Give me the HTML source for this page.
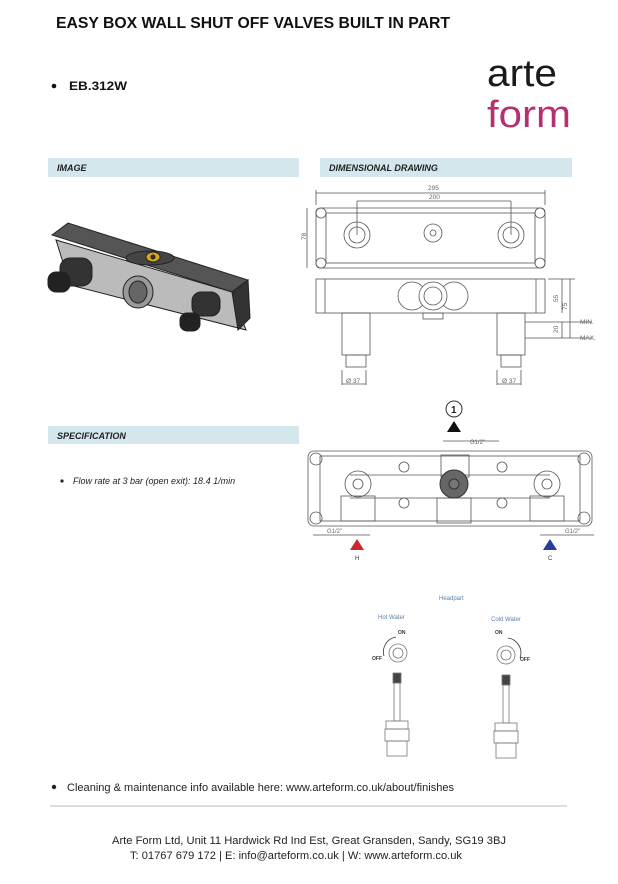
<!DOCTYPE html>
<html><head><meta charset="utf-8"><style>
html,body{margin:0;padding:0;background:#fff;}
svg{display:block;font-family:"Liberation Sans",sans-serif;}
</style></head><body>
<svg width="618" height="884" viewBox="0 0 618 884" xmlns="http://www.w3.org/2000/svg">
<rect width="618" height="884" fill="#fff"/>
<!-- header -->
<text x="56" y="28" font-size="16" font-weight="bold" fill="#111" textLength="394" lengthAdjust="spacingAndGlyphs">EASY BOX WALL SHUT OFF VALVES BUILT IN PART</text>
<circle cx="54" cy="86" r="2.3" fill="#111"/>
<text x="69" y="90" font-size="12" font-weight="bold" fill="#111" textLength="58" lengthAdjust="spacingAndGlyphs">EB.312W</text>
<text x="487" y="86" font-size="38" fill="#1a1a1a" textLength="70" lengthAdjust="spacingAndGlyphs">arte</text>
<text x="487" y="127" font-size="38" fill="#b5306f" textLength="84" lengthAdjust="spacingAndGlyphs">form</text>
<!-- section bars -->
<rect x="48" y="158" width="251" height="19" fill="#d3e7ed"/>
<text x="57" y="171" font-size="9" font-weight="bold" font-style="italic" fill="#222">IMAGE</text>
<rect x="320" y="158" width="252" height="19" fill="#d3e7ed"/>
<text x="329" y="171" font-size="9" font-weight="bold" font-style="italic" fill="#222">DIMENSIONAL DRAWING</text>
<rect x="48" y="426" width="251" height="18" fill="#d3e7ed"/>
<text x="57" y="439" font-size="9" font-weight="bold" font-style="italic" fill="#222">SPECIFICATION</text>
<circle cx="62" cy="481" r="1.6" fill="#222"/>
<text x="73" y="484" font-size="9" font-style="italic" fill="#222">Flow rate at 3 bar (open exit): 18.4 1/min</text>

<!-- product image -->
<g stroke="#222" stroke-width="1">
<polygon points="52,235 68,223 248,280 232,292" fill="#555"/>
<polygon points="56,240 232,292 246,330 70,285" fill="#bbb"/>
<polygon points="232,292 248,280 250,318 238,330" fill="#333"/>
<ellipse cx="150" cy="258" rx="24" ry="7" fill="#444"/>
<ellipse cx="153" cy="257" rx="7" ry="5" fill="#d4a81a"/>
<circle cx="153" cy="257" r="2" fill="#333"/>
<ellipse cx="138" cy="292" rx="15" ry="16" fill="#999"/>
<ellipse cx="138" cy="292" rx="9" ry="11" fill="#666"/>
<rect x="60" y="258" width="32" height="28" rx="10" fill="#333"/>
<rect x="48" y="272" width="22" height="20" rx="8" fill="#222"/>
<rect x="192" y="292" width="28" height="24" rx="9" fill="#333"/>
<rect x="180" y="313" width="20" height="18" rx="7" fill="#222"/>
</g>

<!-- top view drawing -->
<g stroke="#555" stroke-width="0.8" fill="none">
<line x1="316" y1="193" x2="545" y2="193"/><line x1="316" y1="190" x2="316" y2="205"/><line x1="545" y1="190" x2="545" y2="205"/>
<line x1="357" y1="201" x2="511" y2="201"/><line x1="357" y1="201" x2="357" y2="235"/><line x1="511" y1="201" x2="511" y2="235"/>
<line x1="307" y1="208" x2="307" y2="268"/>
<rect x="316" y="208" width="229" height="60" rx="4"/>
<rect x="326" y="213" width="209" height="50"/>
<circle cx="321" cy="213" r="5"/><circle cx="540" cy="213" r="5"/><circle cx="321" cy="263" r="5"/><circle cx="540" cy="263" r="5"/>
<circle cx="357" cy="235" r="13"/><circle cx="357" cy="235" r="8"/>
<circle cx="511" cy="235" r="13"/><circle cx="511" cy="235" r="8"/>
<circle cx="433" cy="233" r="9"/><circle cx="433" cy="233" r="3"/>
<!-- front view -->
<rect x="316" y="279" width="229" height="34"/>
<line x1="325" y1="279" x2="325" y2="313"/><line x1="536" y1="279" x2="536" y2="313"/>
<circle cx="412" cy="296" r="14"/><circle cx="454" cy="296" r="14"/>
<circle cx="433" cy="296" r="14" fill="#fff"/><circle cx="433" cy="296" r="9"/>
<rect x="423" y="313" width="20" height="6"/>
<rect x="342" y="313" width="28" height="42"/><rect x="346" y="355" width="20" height="12"/>
<rect x="497" y="313" width="28" height="42"/><rect x="501" y="355" width="20" height="12"/>
<line x1="342" y1="370" x2="342" y2="385"/><line x1="366" y1="370" x2="366" y2="385"/><line x1="342" y1="384" x2="366" y2="384"/>
<line x1="497" y1="370" x2="497" y2="385"/><line x1="521" y1="370" x2="521" y2="385"/><line x1="497" y1="384" x2="521" y2="384"/>
<line x1="548" y1="279" x2="575" y2="279"/><line x1="562" y1="279" x2="562" y2="313"/><line x1="570" y1="279" x2="570" y2="338"/>
<line x1="525" y1="322" x2="592" y2="322"/><line x1="525" y1="338" x2="592" y2="338"/><line x1="562" y1="322" x2="562" y2="338"/>
</g>
<g font-size="6.5" fill="#666">
<text x="428" y="190">295</text><text x="429" y="199">200</text>
<text x="306" y="240" transform="rotate(-90 306 240)">78</text>
<text x="558" y="302" transform="rotate(-90 558 302)">55</text>
<text x="567" y="310" transform="rotate(-90 567 310)">75</text>
<text x="558" y="333" transform="rotate(-90 558 333)">20</text>
<text x="580" y="324">MIN.</text><text x="580" y="340">MAX.</text>
<text x="346" y="383">Ø 37</text><text x="502" y="383">Ø 37</text>
</g>

<!-- rear view -->
<circle cx="454" cy="409" r="8" fill="#fff" stroke="#333"/>
<text x="451" y="413" font-size="10" font-weight="bold" fill="#222">1</text>
<polygon points="454,421 447,432 461,432" fill="#111"/>
<g stroke="#555" stroke-width="0.8" fill="none">
<line x1="443" y1="441" x2="499" y2="441"/>
<rect x="308" y="451" width="284" height="75" rx="6"/>
<rect x="320" y="456" width="260" height="65"/>
<circle cx="316" cy="459" r="6"/><circle cx="584" cy="459" r="6"/><circle cx="316" cy="518" r="6"/><circle cx="584" cy="518" r="6"/>
<line x1="350" y1="475" x2="550" y2="475"/><line x1="350" y1="498" x2="550" y2="498"/>
<circle cx="358" cy="484" r="13"/><circle cx="358" cy="484" r="5"/>
<circle cx="547" cy="484" r="13"/><circle cx="547" cy="484" r="5"/>
<rect x="441" y="455" width="28" height="22"/>
<rect x="341" y="496" width="34" height="25"/><rect x="530" y="496" width="34" height="25"/><rect x="437" y="498" width="34" height="25"/>
<circle cx="404" cy="467" r="5"/><circle cx="502" cy="467" r="5"/><circle cx="404" cy="503" r="5"/><circle cx="502" cy="503" r="5"/>
<line x1="313" y1="535" x2="370" y2="535"/><line x1="540" y1="535" x2="594" y2="535"/>
</g>
<circle cx="454" cy="484" r="14" fill="#666" stroke="#333"/><circle cx="454" cy="484" r="5" fill="#777" stroke="#333"/>
<text x="470" y="444" font-size="6" fill="#666">G1/2"</text>
<text x="327" y="533" font-size="6" fill="#666">G1/2"</text>
<text x="565" y="533" font-size="6" fill="#666">G1/2"</text>
<polygon points="357,539 350,550 364,550" fill="#c82828"/>
<polygon points="550,539 543,550 557,550" fill="#233e9c"/>
<text x="355" y="560" font-size="6" fill="#333">H</text>
<text x="548" y="560" font-size="6" fill="#333">C</text>

<!-- headpart -->
<g font-size="6" fill="#5a7fa8">
<text x="439" y="600">Headpart</text>
<text x="378" y="619">Hot Water</text>
<text x="491" y="621">Cold Water</text>
</g>
<g stroke="#777" stroke-width="0.8" fill="none">
<circle cx="398" cy="653" r="9"/><circle cx="398" cy="653" r="5"/>
<circle cx="506" cy="655" r="9"/><circle cx="506" cy="655" r="5"/>
<path d="M384,656 A15,15 0 0 1 396,637" stroke="#333"/>
<path d="M508,638 A15,15 0 0 1 520,658" stroke="#333"/>
<rect x="393" y="673" width="8" height="10" fill="#444"/>
<rect x="394" y="683" width="6" height="38"/>
<rect x="386" y="721" width="22" height="8"/><rect x="385" y="729" width="24" height="12"/><rect x="387" y="741" width="20" height="15"/>
<rect x="502" y="675" width="8" height="10" fill="#444"/>
<rect x="503" y="685" width="6" height="38"/>
<rect x="495" y="723" width="22" height="8"/><rect x="494" y="731" width="24" height="12"/><rect x="496" y="743" width="20" height="15"/>
</g>
<g font-size="5" fill="#333" font-weight="bold">
<text x="398" y="634">ON</text><text x="372" y="660">OFF</text>
<text x="495" y="634">ON</text><text x="520" y="661">OFF</text>
</g>

<!-- bottom -->
<circle cx="54" cy="787" r="2.2" fill="#222"/>
<text x="67" y="791" font-size="11" fill="#222" textLength="387" lengthAdjust="spacingAndGlyphs">Cleaning &amp; maintenance info available here: www.arteform.co.uk/about/finishes</text>
<line x1="50" y1="806" x2="567" y2="806" stroke="#bbb" stroke-width="1"/>
<text x="309" y="844" font-size="11" fill="#222" text-anchor="middle" textLength="394" lengthAdjust="spacingAndGlyphs">Arte Form Ltd, Unit 11 Hardwick Rd Ind Est, Great Gransden, Sandy, SG19 3BJ</text>
<text x="296" y="859" font-size="11" fill="#222" text-anchor="middle" textLength="332" lengthAdjust="spacingAndGlyphs">T: 01767 679 172 | E: info@arteform.co.uk | W: www.arteform.co.uk</text>
</svg>
</body></html>
